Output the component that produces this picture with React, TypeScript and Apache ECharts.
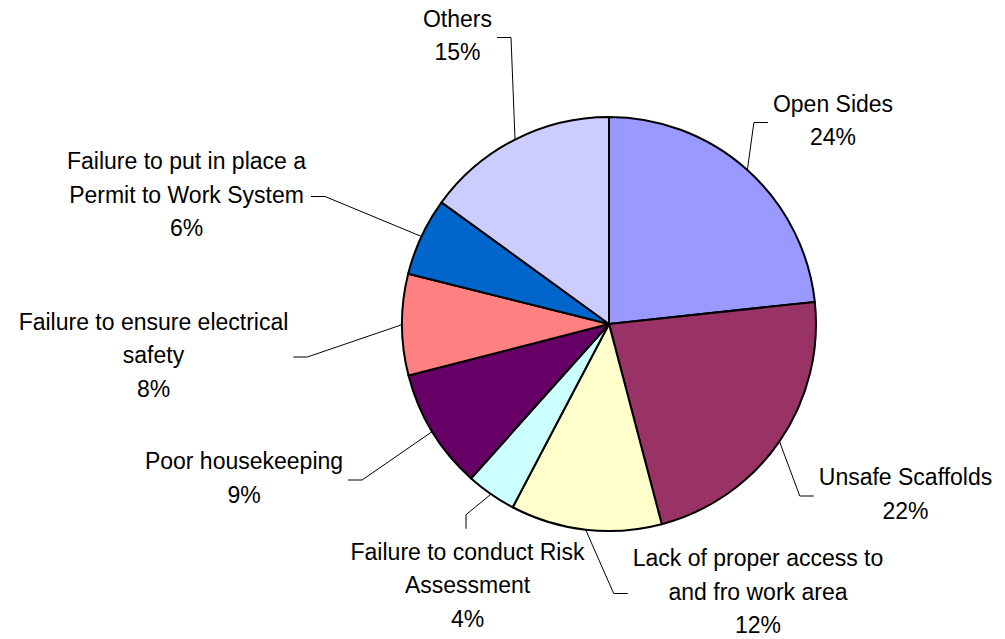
import { useEffect, useRef } from "react";
import * as echarts from "echarts";

const categories = [
  "Open Sides",
  "Unsafe Scaffolds",
  "Lack of proper access to and fro work area",
  "Failure to conduct Risk Assessment",
  "Poor housekeeping",
  "Failure to ensure electrical safety",
  "Failure to put in place a Permit to Work System",
  "Others",
];
// slice sizes as drawn
const sliceValues = [23.3, 22.6, 11.8, 3.9, 9.4, 7.9, 6.1, 15.0];
// percentages printed in the labels
const percentLabels = ["24%", "22%", "12%", "4%", "9%", "8%", "6%", "15%"];
const labelTexts = [
  "Open Sides",
  "Unsafe Scaffolds",
  "Lack of proper access to\nand fro work area",
  "Failure to conduct Risk\nAssessment",
  "Poor housekeeping",
  "Failure to ensure electrical\nsafety",
  "Failure to put in place a\nPermit to Work System",
  "Others",
];
const colors = ["#9999FF", "#993366", "#FFFFCC", "#CCFFFF", "#660066", "#FF8080", "#0066CC", "#CCCCFF"];

// label placement: centre x, centre y, side where the leader line attaches
const labelPlaces: [number, number, string][] = [
  [833, 120.5, "left"],
  [905.5, 494, "left"],
  [758, 591.5, "left"],
  [467.5, 585, "top"],
  [244, 478, "right"],
  [153.5, 355, "right"],
  [186.5, 194.5, "right"],
  [457.5, 35.5, "right"],
];

export default function App() {
  const ref = useRef<HTMLDivElement>(null);
  useEffect(() => {
    if (!ref.current) return;
    const chart = echarts.init(ref.current, null, { renderer: "svg" });
    chart.setOption({
      animation: false,
      backgroundColor: "#ffffff",
      series: [
        {
          type: "pie",
          center: [609, 324],
          radius: 207,
          startAngle: 90,
          clockwise: true,
          avoidLabelOverlap: false,
          silent: true,
          data: categories.map((name, i) => ({
            name,
            value: sliceValues[i],
            itemStyle: { color: colors[i] },
          })),
          itemStyle: { borderColor: "#000000", borderWidth: 2 },
          label: {
            show: true,
            position: "outside",
            formatter: (p: any) => `${labelTexts[p.dataIndex]}\n${percentLabels[p.dataIndex]}`,
            fontFamily: "'Liberation Sans', Arial, sans-serif",
            fontSize: 23,
            lineHeight: 33.5,
            color: "#000000",
            align: "center",
          },
          labelLine: {
            show: true,
            length: 10,
            length2: 10,
            lineStyle: { color: "#000000", width: 1 },
          },
          labelLayout: (params: any) => {
            const [cx, cy, side] = labelPlaces[params.dataIndex];
            const w = params.labelRect.width;
            const h = params.labelRect.height;
            const start = params.labelLinePoints ? params.labelLinePoints[0] : [cx, cy];
            let end: number[];
            let elbow: number[];
            if (side === "left") {
              end = [cx - w / 2 - 5, cy + 2];
              elbow = [end[0] - 14, end[1]];
            } else if (side === "right") {
              end = [cx + w / 2 + 5, cy + 2];
              elbow = [end[0] + 14, end[1]];
            } else {
              end = [cx - 1.5, cy - h / 2 - 6];
              elbow = [end[0], end[1] - 14];
            }
            return {
              x: cx,
              y: cy,
              align: "center",
              verticalAlign: "middle",
              labelLinePoints: [start, elbow, end],
            };
          },
          emphasis: { disabled: true },
        },
      ],
    });
    return () => chart.dispose();
  }, []);
  return (
    <div
      ref={ref}
      style={{ position: "absolute", left: 0, top: 0, width: 1005, height: 639 }}
    />
  );
}
